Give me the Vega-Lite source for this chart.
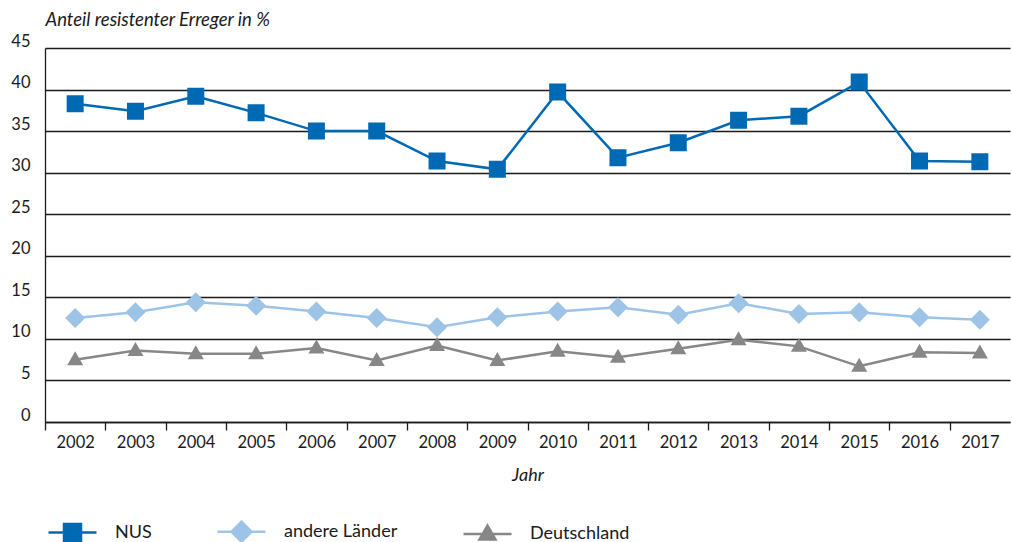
{
  "$schema": "https://vega.github.io/schema/vega-lite/v6.json",
  "width": 965,
  "height": 374,
  "autosize": {"type": "none"},
  "padding": {"left": 45, "top": 48, "right": 2, "bottom": 120},
  "background": "white",
  "config": {
    "view": {"stroke": null},
    "font": "Lato",
    "axis": {"labelFont": "Lato", "titleFont": "Lato", "labelColor": "#1a1a1a", "titleColor": "#1a1a1a"},
    "legend": {"labelFont": "Lato"}
  },
  "data": {
    "values": [
      {"year": 2002, "series": "NUS", "value": 38.3},
      {"year": 2003, "series": "NUS", "value": 37.4},
      {"year": 2004, "series": "NUS", "value": 39.2},
      {"year": 2005, "series": "NUS", "value": 37.2},
      {"year": 2006, "series": "NUS", "value": 35.0},
      {"year": 2007, "series": "NUS", "value": 35.0},
      {"year": 2008, "series": "NUS", "value": 31.4},
      {"year": 2009, "series": "NUS", "value": 30.4},
      {"year": 2010, "series": "NUS", "value": 39.7},
      {"year": 2011, "series": "NUS", "value": 31.8},
      {"year": 2012, "series": "NUS", "value": 33.6},
      {"year": 2013, "series": "NUS", "value": 36.3},
      {"year": 2014, "series": "NUS", "value": 36.8},
      {"year": 2015, "series": "NUS", "value": 40.9},
      {"year": 2016, "series": "NUS", "value": 31.4},
      {"year": 2017, "series": "NUS", "value": 31.3},
      {"year": 2002, "series": "andere Länder", "value": 12.5},
      {"year": 2003, "series": "andere Länder", "value": 13.2},
      {"year": 2004, "series": "andere Länder", "value": 14.4},
      {"year": 2005, "series": "andere Länder", "value": 14.0},
      {"year": 2006, "series": "andere Länder", "value": 13.3},
      {"year": 2007, "series": "andere Länder", "value": 12.5},
      {"year": 2008, "series": "andere Länder", "value": 11.4},
      {"year": 2009, "series": "andere Länder", "value": 12.6},
      {"year": 2010, "series": "andere Länder", "value": 13.3},
      {"year": 2011, "series": "andere Länder", "value": 13.8},
      {"year": 2012, "series": "andere Länder", "value": 12.9},
      {"year": 2013, "series": "andere Länder", "value": 14.3},
      {"year": 2014, "series": "andere Länder", "value": 13.0},
      {"year": 2015, "series": "andere Länder", "value": 13.2},
      {"year": 2016, "series": "andere Länder", "value": 12.6},
      {"year": 2017, "series": "andere Länder", "value": 12.3},
      {"year": 2002, "series": "Deutschland", "value": 7.5},
      {"year": 2003, "series": "Deutschland", "value": 8.6},
      {"year": 2004, "series": "Deutschland", "value": 8.2},
      {"year": 2005, "series": "Deutschland", "value": 8.2},
      {"year": 2006, "series": "Deutschland", "value": 8.9},
      {"year": 2007, "series": "Deutschland", "value": 7.4},
      {"year": 2008, "series": "Deutschland", "value": 9.2},
      {"year": 2009, "series": "Deutschland", "value": 7.4},
      {"year": 2010, "series": "Deutschland", "value": 8.5},
      {"year": 2011, "series": "Deutschland", "value": 7.8},
      {"year": 2012, "series": "Deutschland", "value": 8.8},
      {"year": 2013, "series": "Deutschland", "value": 9.9},
      {"year": 2014, "series": "Deutschland", "value": 9.1},
      {"year": 2015, "series": "Deutschland", "value": 6.7},
      {"year": 2016, "series": "Deutschland", "value": 8.4},
      {"year": 2017, "series": "Deutschland", "value": 8.3}
    ]
  },
  "encoding": {
    "x": {
      "field": "year",
      "type": "quantitative",
      "scale": {"domain": [2001.5, 2017.5], "nice": false, "zero": false},
      "axis": {
        "title": "Jahr",
        "titleFontStyle": "italic",
        "titleFontWeight": "normal",
        "titleFontSize": 18,
        "titlePadding": 16,
        "values": [2002, 2003, 2004, 2005, 2006, 2007, 2008, 2009, 2010, 2011, 2012, 2013, 2014, 2015, 2016, 2017, 2018],
        "format": "d",
        "labelExpr": "datum.value > 2017 ? '' : datum.label",
        "labelFontSize": 16.5,
        "labelFlush": false,
        "labelOverlap": false,
        "labelPadding": 4,
        "labelOffset": 30.156,
        "tickOffset": -30.156,
        "tickSize": 8,
        "tickColor": "#1a1a1a",
        "tickWidth": 1.3,
        "domainColor": "#1a1a1a",
        "domainWidth": 1.3,
        "grid": false
      }
    },
    "y": {
      "field": "value",
      "type": "quantitative",
      "scale": {"domain": [0, 45], "nice": false},
      "axis": {
        "title": "Anteil resistenter Erreger in %",
        "titleAngle": 0,
        "titleAlign": "left",
        "titleBaseline": "alphabetic",
        "titleX": 0,
        "titleY": -23,
        "titleFontStyle": "italic",
        "titleFontWeight": "normal",
        "titleFontSize": 18.5,
        "values": [0, 5, 10, 15, 20, 25, 30, 35, 40, 45],
        "labelFontSize": 16.5,
        "labelBaseline": "alphabetic",
        "labelOffset": -2,
        "labelPadding": 15,
        "ticks": false,
        "grid": true,
        "gridColor": "#1a1a1a",
        "gridWidth": 1.3,
        "domainColor": "#1a1a1a",
        "domainWidth": 1.3
      }
    },
    "color": {
      "field": "series",
      "type": "nominal",
      "scale": {
        "domain": ["NUS", "andere Länder", "Deutschland"],
        "range": ["#0069b4", "#9dc3e6", "#878787"]
      },
      "legend": {
        "title": null,
        "orient": "none",
        "direction": "horizontal",
        "legendX": 16,
        "legendY": 472,
        "padding": 0,
        "symbolSize": 400,
        "labelFontSize": 18,
        "labelColor": "#1a1a1a",
        "labelOffset": 31,
        "columnPadding": 60,
        "encode": {
          "symbols": {
            "update": {
              "fill": {"scale": "color", "field": "value"},
              "stroke": {"scale": "color", "field": "value"},
              "strokeWidth": {"value": 2.5},
              "opacity": {"value": 1}
            }
          }
        }
      }
    }
  },
  "layer": [
    {
      "mark": {"type": "line", "strokeWidth": 2.5}
    },
    {
      "mark": {"type": "point", "filled": true, "opacity": 1, "size": 400},
      "encoding": {
        "shape": {
          "field": "series",
          "type": "nominal",
          "scale": {
            "domain": ["NUS", "andere Länder", "Deutschland"],
            "range": [
              "M-2.4,0H2.4M-0.85,-0.85H0.85V0.85H-0.85Z",
              "M-2.4,0H2.4M0,-1L1,0L0,1L-1,0Z",
              "M-2.4,0H2.4M0,-0.85L0.8,0.55H-0.8Z"
            ]
          },
          "legend": {
            "title": null,
            "orient": "none",
            "direction": "horizontal",
            "legendX": 16,
            "legendY": 472,
            "padding": 0,
            "symbolSize": 400,
            "labelFontSize": 18,
            "labelColor": "#1a1a1a",
            "labelOffset": 31,
            "columnPadding": 60
          }
        }
      }
    }
  ]
}
